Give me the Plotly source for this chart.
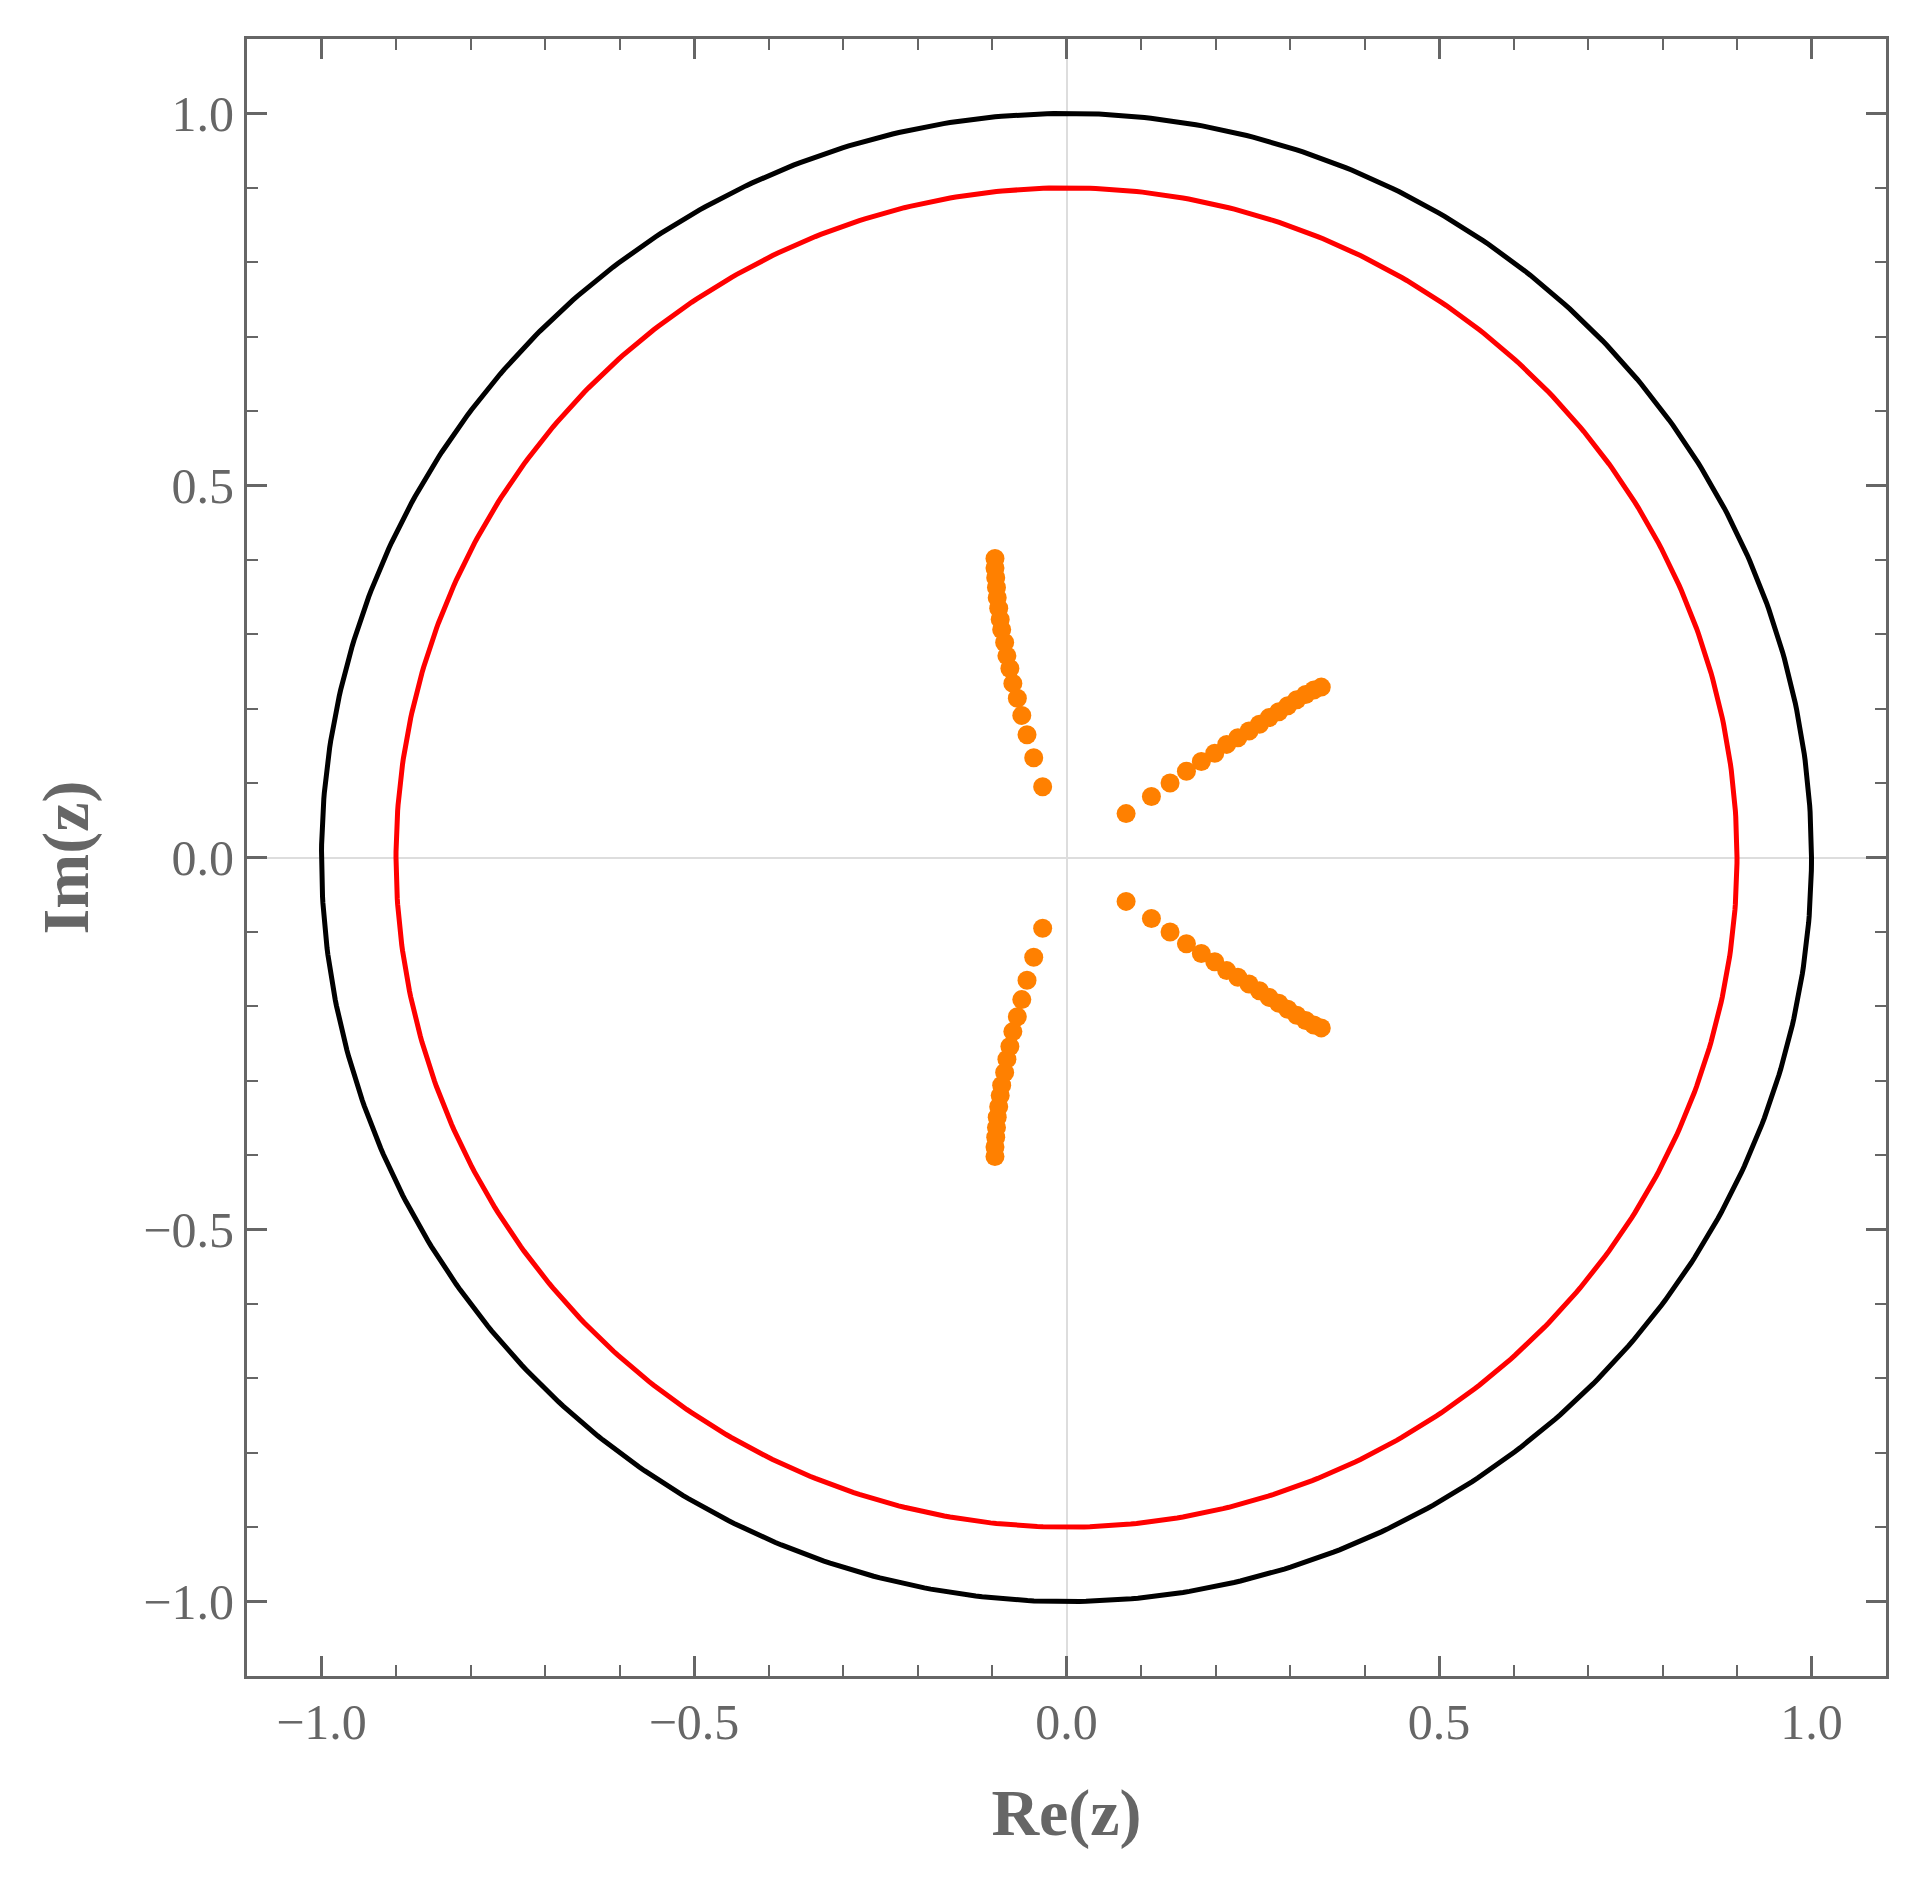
import numpy as np
import plotly.graph_objects as go

# zeros (four branches)
ul_x = [-0.096, -0.096, -0.095, -0.094, -0.093, -0.091, -0.089, -0.087, -0.083, -0.080,
        -0.076, -0.072, -0.066, -0.060, -0.053, -0.044, -0.032]
ul_y = [0.402, 0.389, 0.376, 0.363, 0.349, 0.335, 0.320, 0.306, 0.289, 0.271,
        0.254, 0.234, 0.214, 0.191, 0.165, 0.134, 0.095]
ll_x = ul_x
ll_y = [-0.402, -0.389, -0.376, -0.363, -0.349, -0.335, -0.320, -0.306, -0.289, -0.271,
        -0.254, -0.234, -0.214, -0.191, -0.165, -0.134, -0.095]
ur_x = [0.080, 0.114, 0.139, 0.161, 0.181, 0.199, 0.215, 0.230, 0.245, 0.259,
        0.272, 0.285, 0.297, 0.309, 0.321, 0.332, 0.342]
ur_y = [0.059, 0.082, 0.100, 0.116, 0.129, 0.140, 0.152, 0.161, 0.170, 0.179,
        0.188, 0.196, 0.204, 0.212, 0.219, 0.225, 0.229]
lr_x = ur_x
lr_y = [-0.059, -0.082, -0.100, -0.116, -0.129, -0.140, -0.152, -0.161, -0.170, -0.179,
        -0.188, -0.196, -0.204, -0.212, -0.219, -0.225, -0.229]

radii = [1.0, 0.9]
circle_colors = ["black", "red"]

fig = go.Figure()

t = np.linspace(0, 2 * np.pi, 721)
for r, c in zip(radii, circle_colors):
    fig.add_trace(go.Scatter(x=r * np.cos(t), y=r * np.sin(t), mode="lines",
                             line=dict(color=c, width=5), hoverinfo="skip"))

for xs, ys in [(ul_x, ul_y), (ll_x, ll_y), (ur_x, ur_y), (lr_x, lr_y)]:
    fig.add_trace(go.Scatter(x=xs, y=ys, mode="markers",
                             marker=dict(color="#FF8000", size=19)))

axis_common = dict(
    range=[-1.1, 1.1],
    tickvals=[-1.0, -0.5, 0.0, 0.5, 1.0],
    ticktext=["\u22121.0", "\u22120.5", "0.0", "0.5", "1.0"],
    ticks="inside", ticklen=20, tickwidth=2.5, tickcolor="#666",
    minor=dict(dtick=0.1, ticks="inside", ticklen=11, tickwidth=2, tickcolor="#666"),
    showgrid=False, zeroline=True, zerolinecolor="#ddd", zerolinewidth=1.5,
    showline=True, linecolor="#666", linewidth=3, mirror="allticks",
    tickfont=dict(family="Liberation Serif", size=50, color="#666"),
)

fig.update_layout(
    width=1922, height=1886,
    margin=dict(l=239, r=44, t=31, b=218),
    plot_bgcolor="white", paper_bgcolor="white",
    showlegend=False,
    xaxis=dict(**axis_common,
               title=dict(text="<b>Re(z)</b>", standoff=40,
                          font=dict(family="Liberation Serif", size=66, color="#666"))),
    yaxis=dict(**axis_common,
               title=dict(text="<b>Im(z)</b>", standoff=34,
                          font=dict(family="Liberation Serif", size=66, color="#666"))),
)

fig.write_html("out.html")
